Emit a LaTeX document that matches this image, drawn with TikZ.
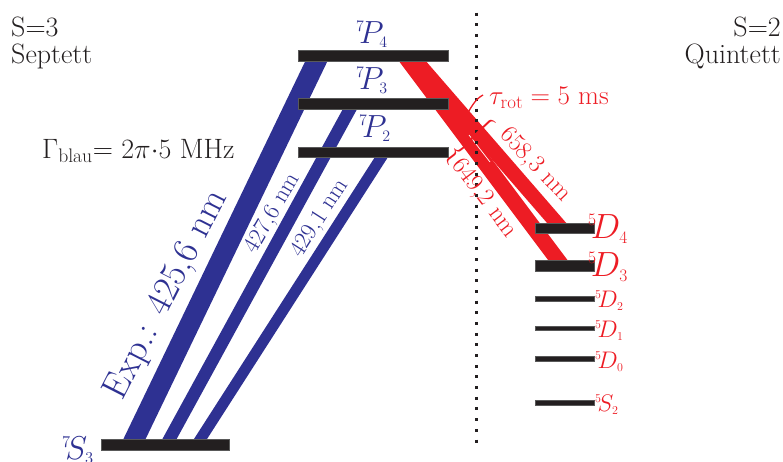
\RequirePackage{fix-cm}
\documentclass[tikz,border=0pt]{standalone}
\usepackage{fontspec}
\definecolor{lblue}{HTML}{2E3192}
\definecolor{lred}{HTML}{ED1C24}
\definecolor{barblk}{HTML}{231F20}
\newcommand\fsz[1]{\fontsize{#1}{#1}\selectfont}
\begin{document}
\begin{tikzpicture}[x=1pt,y=-1pt,
  bar/.style={fill=barblk,draw=gray!70!black,line width=0.5pt,inner sep=0pt,outer sep=0pt},
  bigbar/.style={bar,minimum width=150pt,minimum height=11pt},
  dbar/.style={bar,minimum width=59pt},
  bbeam/.style={lblue,line width=#1},
  rbeam/.style={lred,line width=#1},
  blab/.style={lblue,inner sep=0pt},
  rlab/.style={lred,inner sep=0pt},
  plain/.style={text=barblk,inner sep=0pt,font=\fsz{28}},
  dotline/.style={barblk,line width=3pt,dash pattern=on 3pt off 7.675pt}]
\useasboundingbox (0,0) rectangle (783,461);

% beam end points
\coordinate (b1s) at (132.1,444);  \coordinate (b1e) at (319.1,55.5);
\coordinate (b2s) at (166.8,444);  \coordinate (b2e) at (353,103.5);
\coordinate (b3s) at (197.3,444);  \coordinate (b3e) at (384.7,152);
\coordinate (r1s) at (411,55);     \coordinate (r1e) at (561,228);
\coordinate (r2s) at (404,55);     \coordinate (r2e) at (561.5,265);
\coordinate (slit1) at (469,135);  \coordinate (slit2) at (490,162);

% blue beams
\draw[bbeam=20pt] (b1s) -- (b1e);
\draw[bbeam=12.5pt] (b2s) -- (b2e);
\draw[bbeam=11pt] (b3s) -- (b3e);
% red beams
\draw[rbeam=15.5pt] (r2s) -- (r2e);
\draw[rbeam=14.5pt] (r1s) -- (r1e);
\draw[white,line width=0.7pt] (slit1) -- (slit2);

% levels
\node[bar,minimum width=128pt,minimum height=11pt] (S3) at (165,444.5) {};
\node[bigbar] (P4) at (373,55.5) {};
\node[bigbar] (P3) at (373,103.5) {};
\node[bigbar,minimum height=10pt] (P2) at (373,152) {};
\node[dbar,minimum height=10pt] (D4) at (564.5,228) {};
\node[dbar,minimum height=11pt] (D3) at (564.5,265.5) {};
\node[dbar,minimum height=5pt] (D2) at (564.5,298.5) {};
\node[dbar,minimum height=4.5pt] (D1) at (564.5,328) {};
\node[dbar,minimum height=5pt] (D0) at (564.5,358.5) {};
\node[dbar,minimum height=5pt] (S2) at (564.5,402.5) {};

% dotted separator
\coordinate (dtop) at (476,12.5);
\coordinate (dbot) at (476,443);
\draw[dotline] (dtop) -- (dbot);

% headers
\node[plain,anchor=base west] (h1) at (11,36) {S=3};
\node[plain,anchor=base west] (h2) at (11,63) {Septett};
\node[plain,anchor=base east] (h3) at (781,36) {S=2};
\node[plain,anchor=base east] (h4) at (781,63) {Quintett};
\node[plain,anchor=base west,font=\fsz{28}] (gam) at (42,158) {$\Gamma_{\mathrm{blau}}$= $2\pi{\cdot}5$ MHz};

% level labels
\node[blab,anchor=base west,font=\fsz{32}] (lP4) at (356,43) {${}^{\scriptscriptstyle 7}\!P_{\scriptscriptstyle 4}$};
\node[blab,anchor=base west,font=\fsz{32}] (lP3) at (356,89) {${}^{\scriptscriptstyle 7}\!P_{\scriptscriptstyle 3}$};
\node[blab,anchor=base west,font=\fsz{32}] (lP2) at (359,137) {${}^{\scriptscriptstyle 7}\!P_{\scriptscriptstyle 2}$};
\node[blab,anchor=base west,font=\fsz{33}] (lS3) at (62,459) {${}^{\scriptscriptstyle 7}\!S_{\scriptscriptstyle 3}$};
\node[rlab,anchor=base west,font=\fsz{35}] (lD4) at (588,238) {${}^{\scriptscriptstyle 5}\!D_{\scriptscriptstyle 4}$};
\node[rlab,anchor=base west,font=\fsz{35}] (lD3) at (588,276) {${}^{\scriptscriptstyle 5}\!D_{\scriptscriptstyle 3}$};
\node[rlab,anchor=base west,font=\fsz{24}] (lD2) at (595,307) {${}^{\scriptscriptstyle 5}\!D_{\scriptscriptstyle 2}$};
\node[rlab,anchor=base west,font=\fsz{24}] (lD1) at (595,337) {${}^{\scriptscriptstyle 5}\!D_{\scriptscriptstyle 1}$};
\node[rlab,anchor=base west,font=\fsz{24}] (lD0) at (595,368) {${}^{\scriptscriptstyle 5}\!D_{\scriptscriptstyle 0}$};
\node[rlab,anchor=base west,font=\fsz{24}] (lS2) at (595,411) {${}^{\scriptscriptstyle 5}\!S_{\scriptscriptstyle 2}$};

% wavelength labels
\node[blab,font=\fsz{37},rotate=63] (lexp) at (167,295) {Exp.: 425,6 nm};
\node[blab,font=\fsz{24},rotate=60] (l427) at (272.5,213.5) {427,6 nm};
\node[blab,font=\fsz{24},rotate=57.3] (l429) at (320,218.5) {429,1 nm};
\node[rlab,font=\fsz{25},rotate=-46.5] (l658) at (535,165) {658,3 nm};
\node[rlab,font=\fsz{25},rotate=-52.7] (l649) at (484.5,198.5) {649,2 nm};
\node[rlab,font=\fsz{31},rotate=-46.5] (br658) at (481,130) {\{};
\node[rlab,font=\fsz{29},rotate=-52.7] (br649) at (458,153) {\{};

% lifetime
\node[rlab,anchor=base west,font=\fsz{27}] (tau) at (489,104) {$\tau_{\mathrm{rot}} = 5$ ms};
\coordinate (pt1) at (483,95);
\coordinate (pt2) at (465,118);
\draw[lred,line width=1.3pt] (pt1) .. controls (475,99) and (470,109) .. (pt2);
\end{tikzpicture}
\end{document}
